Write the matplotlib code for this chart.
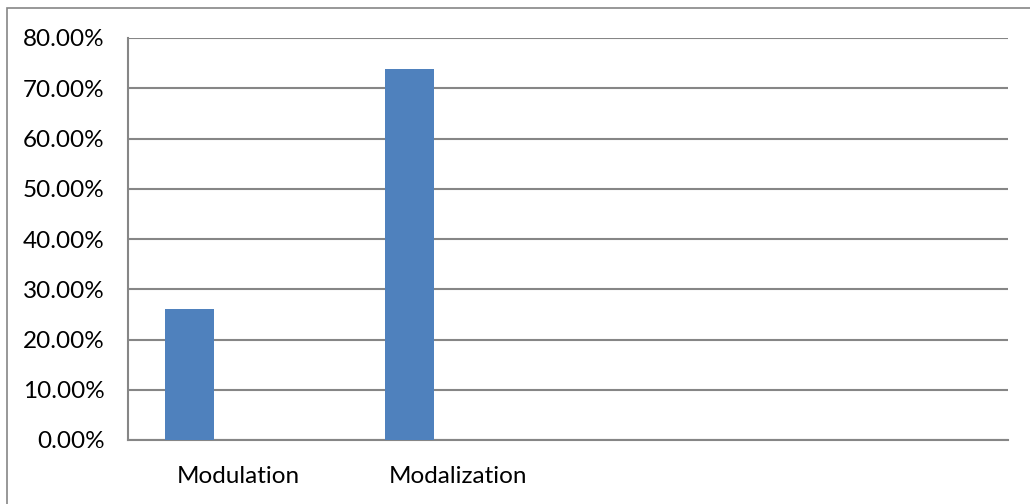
import matplotlib
matplotlib.use("Agg")
import matplotlib.pyplot as plt
from matplotlib.patches import Rectangle
from matplotlib.ticker import FuncFormatter

# 数据
categories = ['Modulation', 'Modalization', '', '']
values = [26.0, 73.9]
yticks = [0, 10, 20, 30, 40, 50, 60, 70, 80]

bar_color = '#4F81BD'
grid_color = '#868686'

plt.rcParams['font.family'] = ['Lato', 'DejaVu Sans']

fig = plt.figure(figsize=(10.30, 5.04), dpi=100)
ax = fig.add_axes([128 / 1030, 64 / 504, 880 / 1030, 402 / 504])

# 外框
fig.patches.append(Rectangle((7 / 1030, -0.1), 1.2, (504 - 8) / 504 + 0.1,
                             transform=fig.transFigure, fill=False,
                             edgecolor=grid_color, linewidth=1.2))

x = list(range(len(categories)))
w = 0.22
ax.bar([i - w for i in x[:len(values)]], values, width=w, color=bar_color, zorder=3)

ax.set_xlim(-0.5, len(categories) - 0.5)
ax.set_ylim(0, 80)
ax.set_yticks(yticks)
ax.yaxis.set_major_formatter(FuncFormatter(lambda v, p: f'{v:.2f}%'))
ax.set_xticks(x)
ax.set_xticklabels(categories)
ax.tick_params(axis='both', length=0, labelsize=17.5, colors='black')
ax.tick_params(axis='y', pad=17)
ax.tick_params(axis='x', pad=19)

ax.grid(axis='y', color=grid_color, linewidth=1.5, zorder=0)
for s in ['top', 'right']:
    ax.spines[s].set_visible(False)
for s in ['left', 'bottom']:
    ax.spines[s].set_color(grid_color)
    ax.spines[s].set_linewidth(1.5)

fig.savefig('out.png', dpi=100)
